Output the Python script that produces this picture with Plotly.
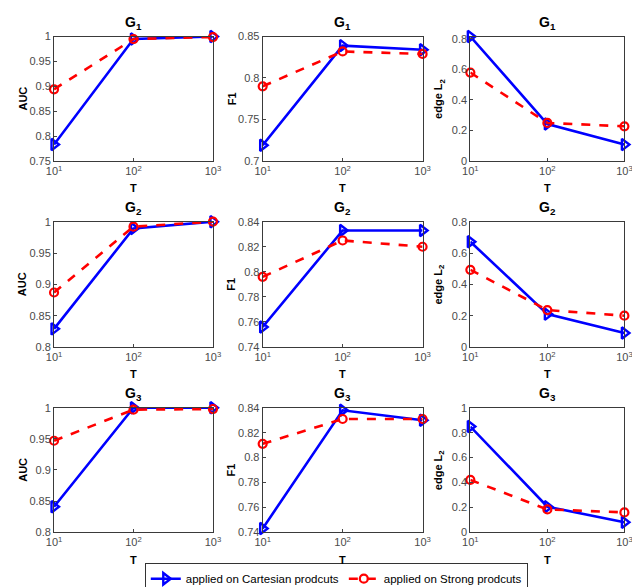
import plotly.graph_objects as go

T = [10, 100, 1000]
tick_text = ["10<sup>1</sup>", "10<sup>2</sup>", "10<sup>3</sup>"]
graphs = ["G<sub>1</sub>", "G<sub>2</sub>", "G<sub>3</sub>"]
metrics = ["AUC", "F1", "edge L<sub>2</sub>"]

# Cartesian products (blue)
cart_auc = [[0.783, 0.995, 1.000], [0.829, 0.989, 1.000], [0.841, 1.000, 1.000]]
cart_f1 = [[0.719, 0.839, 0.834], [0.756, 0.833, 0.833], [0.743, 0.838, 0.830]]
cart_l2 = [[0.815, 0.242, 0.107], [0.672, 0.210, 0.090], [0.849, 0.205, 0.080]]
# Strong products (red)
strong_auc = [[0.894, 0.995, 0.999], [0.887, 0.992, 1.000], [0.947, 0.997, 0.998]]
strong_f1 = [[0.790, 0.832, 0.829], [0.796, 0.825, 0.820], [0.811, 0.831, 0.831]]
strong_l2 = [[0.579, 0.249, 0.227], [0.493, 0.236, 0.200], [0.420, 0.183, 0.159]]

y_ranges = [
    [[0.75, 1.0], [0.70, 0.85], [0.0, 0.815]],
    [[0.80, 1.0], [0.74, 0.84], [0.0, 0.80]],
    [[0.80, 1.0], [0.74, 0.84], [0.0, 1.0]],
]
y_ticks = [
    [[0.75, 0.8, 0.85, 0.9, 0.95, 1], [0.7, 0.75, 0.8, 0.85], [0, 0.2, 0.4, 0.6, 0.8]],
    [[0.8, 0.85, 0.9, 0.95, 1], [0.74, 0.76, 0.78, 0.8, 0.82, 0.84], [0, 0.2, 0.4, 0.6, 0.8]],
    [[0.8, 0.85, 0.9, 0.95, 1], [0.74, 0.76, 0.78, 0.8, 0.82, 0.84], [0, 0.2, 0.4, 0.6, 0.8, 1]],
]

W, H = 640, 587
col_px = [(39, 202), (253, 417), (466, 624)]
row_px = [(23, 150), (212, 340), (402, 529)]
ytitle_px = [7, 221, 434]

AX = "#3a3a3a"
TICK = "#4a4a4a"
FONT = "Liberation Sans, Arial, sans-serif"

fig = go.Figure()
layout = {}
annotations = []

cart = [cart_auc, cart_f1, cart_l2]
strong = [strong_auc, strong_f1, strong_l2]

for r in range(3):
    for c in range(3):
        idx = r * 3 + c + 1
        xa = "x" if idx == 1 else f"x{idx}"
        ya = "y" if idx == 1 else f"y{idx}"
        first = (idx == 1)
        fig.add_trace(go.Scatter(
            x=T, y=cart[c][r], xaxis=xa, yaxis=ya, mode="lines+markers",
            line=dict(color="#0000ff", width=2.6),
            marker=dict(symbol="triangle-right-open", size=10, color="#0000ff",
                        line=dict(color="#0000ff", width=2.4)),
            name="applied on Cartesian prodcuts", showlegend=first,
            cliponaxis=False,
        ))
        fig.add_trace(go.Scatter(
            x=T, y=strong[c][r], xaxis=xa, yaxis=ya, mode="lines+markers",
            line=dict(color="#ff0000", width=2.6, dash="dash"),
            marker=dict(symbol="circle-open", size=8, color="#ff0000",
                        line=dict(color="#ff0000", width=2.2)),
            name="applied on Strong prodcuts", showlegend=first,
            cliponaxis=False,
        ))
        x0, x1 = col_px[c]
        y0, y1 = row_px[r]
        xkey = "xaxis" if idx == 1 else f"xaxis{idx}"
        ykey = "yaxis" if idx == 1 else f"yaxis{idx}"
        layout[xkey] = dict(
            domain=[x0 / W, x1 / W], anchor=ya, type="log", range=[1, 3],
            tickvals=T, ticktext=tick_text, ticks="inside", ticklen=3,
            showline=True, mirror=True, linecolor=AX, linewidth=1,
            showgrid=False, zeroline=False, tickfont=dict(size=11, color=TICK),
        )
        layout[ykey] = dict(
            domain=[1 - y1 / H, 1 - y0 / H], anchor=xa, range=y_ranges[r][c],
            tickvals=y_ticks[r][c], ticks="inside", ticklen=3,
            showline=True, mirror=True, linecolor=AX, linewidth=1,
            showgrid=False, zeroline=False, tickfont=dict(size=11, color=TICK),
        )
        cx = (x0 + x1) / 2 / W
        annotations.append(dict(
            text=f"<b>{graphs[r]}</b>", x=cx, y=1 - (y0 - 3) / H,
            xref="paper", yref="paper", xanchor="center", yanchor="bottom",
            showarrow=False, font=dict(size=14, color="black", family=FONT),
        ))
        annotations.append(dict(
            text="<b>T</b>", x=cx, y=1 - (y1 + 28) / H,
            xref="paper", yref="paper", xanchor="center", yanchor="middle",
            showarrow=False, font=dict(size=11, color="black", family=FONT),
        ))
        annotations.append(dict(
            text=f"<b>{metrics[c]}</b>", x=ytitle_px[c] / W,
            y=1 - (y0 + y1) / 2 / H, textangle=-90,
            xref="paper", yref="paper", xanchor="center", yanchor="middle",
            showarrow=False, font=dict(size=11, color="black", family=FONT),
        ))

fig.update_layout(
    width=W, height=H, margin=dict(l=0, r=0, t=0, b=0),
    paper_bgcolor="white", plot_bgcolor="white",
    font=dict(family=FONT, color="black"),
    annotations=annotations,
    legend=dict(
        orientation="h", x=328.5 / W, y=1 - 576.5 / H, xanchor="center", yanchor="middle",
        bordercolor="#333333", borderwidth=1, bgcolor="white",
        font=dict(size=11.5, color="black", family=FONT),
        itemwidth=30, tracegroupgap=0,
    ),
    **layout,
)

fig.write_html("out.html")
